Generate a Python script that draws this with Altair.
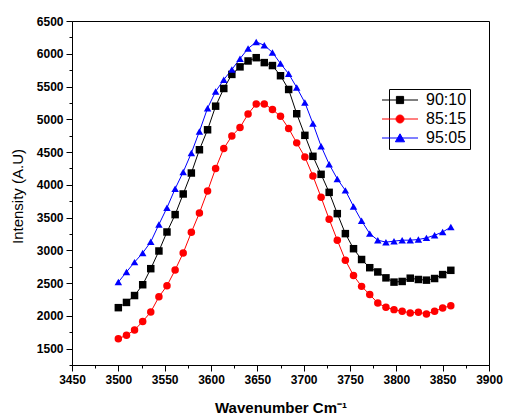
import altair as alt
import pandas as pd

# ---- data ----
wavenumber = [3500.0, 3508.8, 3517.5, 3526.3, 3535.0, 3543.8, 3552.5, 3561.3, 3570.0, 3578.8,
              3587.5, 3596.3, 3605.0, 3613.8, 3622.5, 3631.3, 3640.0, 3648.8, 3657.5, 3666.3,
              3675.0, 3683.8, 3692.5, 3701.3, 3710.0, 3718.8, 3727.5, 3736.3, 3745.0, 3753.8,
              3762.5, 3771.3, 3780.0, 3788.8, 3797.5, 3806.3, 3815.0, 3823.8, 3832.5, 3841.3,
              3850.0, 3858.8]
s_90_10 = [2125, 2205, 2310, 2475, 2720, 2990, 3280, 3545, 3860, 4180,
           4535, 4840, 5200, 5470, 5685, 5800, 5890, 5940, 5865, 5820,
           5665, 5455, 5085, 4755, 4435, 4160, 3885, 3560, 3255, 3025,
           2860, 2735, 2670, 2580, 2515, 2525, 2575, 2555, 2545, 2570,
           2630, 2695]
s_85_15 = [1650, 1705, 1785, 1915, 2060, 2290, 2460, 2700, 2960, 3275,
           3570, 3905, 4250, 4555, 4745, 4875, 5080, 5235, 5235, 5150,
           5045, 4860, 4640, 4425, 4135, 3810, 3475, 3155, 2850, 2615,
           2450, 2325, 2195, 2130, 2095, 2070, 2045, 2055, 2030, 2070,
           2120, 2155]
s_95_05 = [2515, 2670, 2820, 2960, 3130, 3395, 3650, 3940, 4195, 4485,
           4815, 5170, 5425, 5605, 5760, 5925, 6080, 6180, 6130, 6020,
           5850, 5695, 5485, 5255, 4935, 4590, 4315, 4090, 3915, 3670,
           3450, 3255, 3155, 3125, 3140, 3155, 3155, 3165, 3190, 3230,
           3280, 3355]

series_names = ["90:10", "85:15", "95:05"]
series_colors = ["#000000", "#ff0000", "#0000ff"]
marker_shapes = ["square", "circle", "triangle-up"]
legend_shapes = [
    "M-4.5,0H4.5M-0.9,-0.9H0.9V0.9H-0.9Z",
    "M-4.5,0H4.5M-1,0A1,1,0,1,1,1,0A1,1,0,1,1,-1,0Z",
    "M-4.5,0H4.5M0,-1.05L1.15,0.95L-1.15,0.95Z",
]

x_ticks = [3450, 3475, 3500, 3525, 3550, 3575, 3600, 3625, 3650, 3675, 3700,
           3725, 3750, 3775, 3800, 3825, 3850, 3875, 3900]
y_ticks = [1250, 1500, 1750, 2000, 2250, 2500, 2750, 3000, 3250, 3500, 3750,
           4000, 4250, 4500, 4750, 5000, 5250, 5500, 5750, 6000, 6250, 6500]

rows = []
for name, vals in zip(series_names, [s_90_10, s_85_15, s_95_05]):
    for xv, yv in zip(wavenumber, vals):
        rows.append({"wavenumber": xv, "intensity": yv, "series": name})
df = pd.DataFrame(rows)

FONT = "Liberation Sans"

x_enc = alt.X(
    "wavenumber:Q",
    scale=alt.Scale(domain=[3450, 3900], nice=False, zero=False),
    axis=alt.Axis(
        values=x_ticks, format="d",
        labelExpr="datum.value % 50 === 0 ? datum.label : ''",
        tickSize={"condition": {"test": "datum.value % 50 === 0", "value": 6}, "value": 3},
        labelPadding=3, labelFontSize=12, labelFontWeight="bold", labelFont=FONT,
        labelFlush=False, labelOverlap=False, grid=False,
        title="Wavenumber Cm⁻¹", titleFontSize=15, titleFontWeight="bold", titleFont=FONT,
        titleY=47, titleBaseline="alphabetic",
    ),
)
y_enc = alt.Y(
    "intensity:Q",
    scale=alt.Scale(domain=[1250, 6500], nice=False, zero=False),
    axis=alt.Axis(
        values=y_ticks, format="d",
        labelExpr="datum.value % 500 === 0 ? datum.label : ''",
        tickSize={"condition": {"test": "datum.value % 500 === 0", "value": 6}, "value": 3},
        labelPadding=3, labelFontSize=12, labelFontWeight="bold", labelFont=FONT,
        labelOverlap=False, grid=False,
        title="Intensity (A.U)", titleFontSize=15, titleFontWeight="normal", titleFont=FONT,
        titleX=-50, titleY=175, titleBaseline="alphabetic", titleAngle=270,
    ),
)

color_scale = alt.Scale(domain=series_names, range=series_colors)

lines = alt.Chart(df).mark_line(strokeWidth=1).encode(
    x=x_enc, y=y_enc,
    color=alt.Color("series:N", scale=color_scale, legend=None),
    detail="series:N",
)

points = alt.Chart(df).mark_point(filled=True, opacity=1, size=56).encode(
    x=x_enc, y=y_enc,
    color=alt.Color("series:N", scale=color_scale, legend=None),
    shape=alt.Shape("series:N", scale=alt.Scale(domain=series_names, range=marker_shapes), legend=None),
)

leg = alt.Legend(
    title=None, orient="none", legendX=317, legendY=68,
    symbolSize=64, symbolStrokeWidth=1,
    labelFontSize=16, labelFont=FONT, labelColor="black", labelOffset=18,
    padding=3, rowPadding=3, strokeColor="black", fillColor="white",
)

legend_layer = alt.Chart(df).transform_filter("false").mark_point(
    filled=True, opacity=1, strokeWidth=1
).encode(
    x=x_enc, y=y_enc,
    color=alt.Color("series:N", scale=color_scale, legend=leg),
    stroke=alt.Stroke("series:N", scale=alt.Scale(domain=series_names, range=series_colors), legend=leg),
    shape=alt.Shape("series:N", scale=alt.Scale(domain=series_names, range=legend_shapes), legend=leg),
)

chart = alt.layer(lines, points, legend_layer).resolve_scale(
    color="independent", shape="independent", stroke="independent"
).properties(
    width=417, height=344,
    autosize=alt.AutoSizeParams(type="none"),
    padding={"left": 64, "top": 13, "right": 14, "bottom": 50},
).configure_view(
    stroke="black", strokeWidth=1
).configure_axis(
    domainColor="black", tickColor="black", labelColor="black", titleColor="black",
    domainWidth=1, tickWidth=1,
)

chart.save("out.html", embed_options={"renderer": "svg", "actions": False})
